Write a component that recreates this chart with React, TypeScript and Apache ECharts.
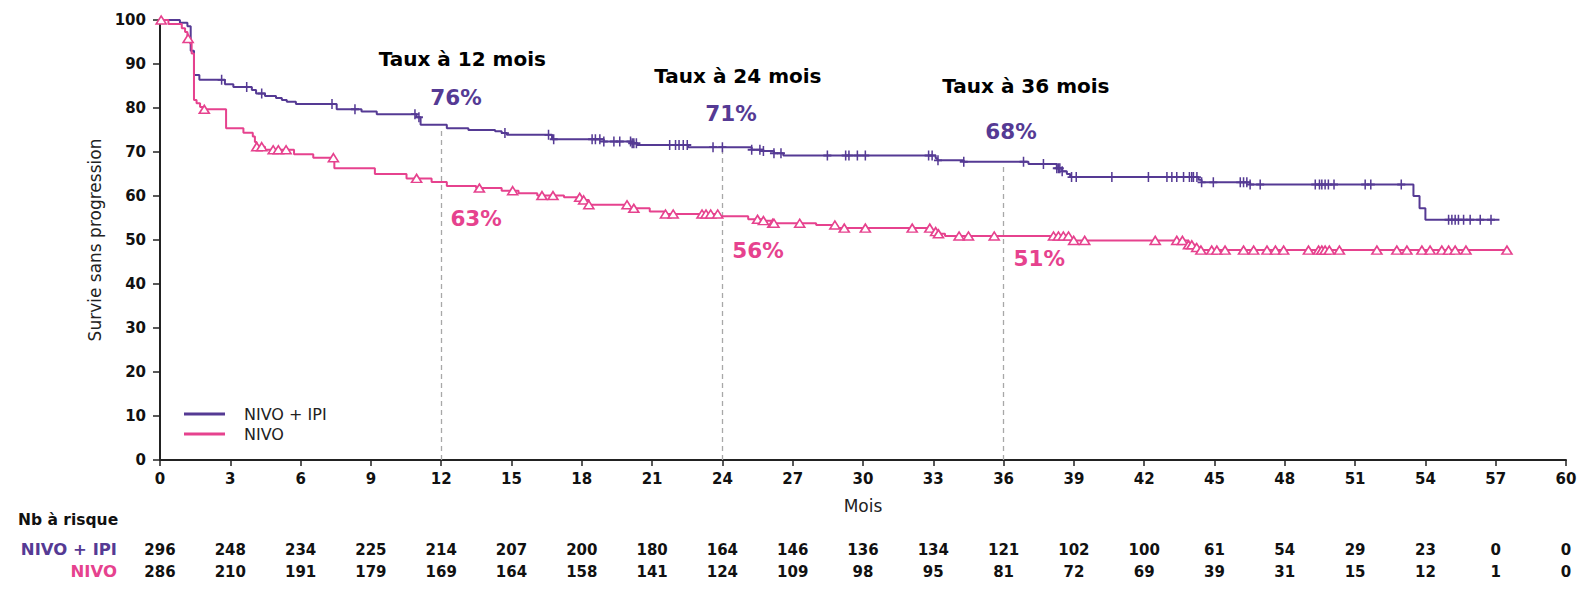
import React, { useEffect, useRef } from "react";
import * as echarts from "echarts";

// ---- Data ----
const xTicks = [0, 3, 6, 9, 12, 15, 18, 21, 24, 27, 30, 33, 36, 39, 42, 45, 48, 51, 54, 57, 60];
const riskNivoIpi = [296, 248, 234, 225, 214, 207, 200, 180, 164, 146, 136, 134, 121, 102, 100, 61, 54, 29, 23, 0, 0];
const riskNivo = [286, 210, 191, 179, 169, 164, 158, 141, 124, 109, 98, 95, 81, 72, 69, 39, 31, 15, 12, 1, 0];

// Kaplan-Meier steps: [month, survival after the step]
const nivoIpiSteps: [number, number][] = [
  [0, 100], [0.85, 99.4], [1.17, 98.6], [1.31, 93], [1.45, 87.5], [1.68, 86.4],
  [2.77, 85.4], [3.13, 84.8], [3.92, 84.1], [4.1, 83.3], [4.48, 82.7], [4.95, 82.3],
  [5.2, 81.8], [5.41, 81.4], [5.8, 80.9], [7.54, 79.7], [8.6, 79.2], [9.25, 78.6],
  [10.95, 77.9], [11.12, 76.2], [12.24, 75.4], [13.16, 75.0], [14.3, 74.7], [14.58, 74.3],
  [14.8, 73.9], [16.73, 72.9], [18.94, 72.4], [20.1, 72.0], [20.36, 71.6], [22.53, 71.1],
  [25.25, 70.5], [25.75, 70.2], [26.2, 69.7], [26.6, 69.2], [33.1, 68.6], [33.17, 68.1],
  [34.3, 67.8], [37.06, 67.3], [38.27, 66.3], [38.5, 65.6], [38.7, 65.0], [38.84, 64.3],
  [44.32, 63.7], [44.45, 63.1], [46.52, 62.6], [53.49, 60.0], [53.75, 57.2], [54.0, 54.6],
  [57.16, 54.6],
];
const nivoIpiCensor = [
  2.63, 3.7, 4.34, 7.34, 8.32, 10.88, 11.05, 14.72, 16.58, 16.8, 18.44, 18.58, 18.77, 18.94,
  19.37, 19.62, 20.08, 20.15, 20.22, 20.33, 21.75, 22.0, 22.15, 22.33, 22.5, 23.6, 24.0,
  25.25, 25.6, 25.75, 26.2, 26.5, 28.48, 29.26, 29.4, 29.76, 30.1, 32.8, 32.95, 33.2, 34.3,
  36.85, 37.7, 38.27, 38.34, 38.4, 38.5, 38.9, 39.1, 40.62, 42.18, 42.97, 43.18, 43.39,
  43.68, 43.93, 44.03, 44.1, 44.25, 44.45, 44.95, 46.1, 46.24, 46.38, 46.52, 46.95, 49.3,
  49.48, 49.58, 49.72, 49.86, 50.1, 51.43, 51.67, 52.97, 54.99, 55.13, 55.27, 55.41, 55.63,
  55.91, 56.34, 56.8,
];

const nivoSteps: [number, number][] = [
  [0, 100], [0.36, 99.1], [0.93, 98.1], [1.07, 97.3], [1.17, 95.8], [1.28, 94.7],
  [1.35, 92.4], [1.45, 81.8], [1.56, 81.1], [1.71, 80.2], [1.85, 79.7], [2.82, 75.4],
  [3.56, 74.4], [3.96, 73.5], [4.05, 72.3], [4.12, 71.2], [4.48, 70.5], [5.72, 69.5],
  [6.54, 68.7], [7.44, 66.3], [9.17, 65.0], [10.52, 64.0], [11.59, 63.2], [12.24, 62.3],
  [13.49, 61.8], [14.58, 61.2], [15.3, 60.6], [16.1, 60.1], [17.24, 59.7], [18.0, 59.1],
  [18.3, 58.0], [20.0, 57.2], [20.9, 56.5], [21.5, 55.9], [23.9, 55.4], [25.1, 54.7],
  [25.7, 54.4], [26.15, 53.8], [28.0, 53.4], [28.9, 52.7], [32.9, 51.9], [33.2, 51.4],
  [33.5, 50.9], [38.84, 49.9], [43.89, 48.9], [44.24, 48.3], [44.38, 47.7], [57.6, 47.7],
];
const nivoCensor = [
  0.05, 1.2, 1.89, 4.13, 4.34, 4.83, 5.05, 5.38, 7.4, 10.95, 13.63, 15.05, 16.3, 16.77,
  17.91, 18.08, 18.3, 19.93, 20.22, 21.57, 21.9, 23.13, 23.3, 23.5, 23.8, 25.5, 25.75,
  26.15, 26.2, 27.3, 28.8, 29.2, 30.1, 32.1, 32.85, 33.1, 33.22, 34.1, 34.5, 35.6, 38.13,
  38.34, 38.55, 38.77, 38.99, 39.46, 42.47, 43.39, 43.63, 43.89, 44.03, 44.24, 44.42,
  44.88, 45.1, 45.45, 46.24, 46.67, 47.24, 47.6, 47.95, 49.01, 49.44, 49.58, 49.72, 49.9,
  50.33, 51.93, 52.78, 53.21, 53.85, 54.2, 54.7, 54.99, 55.27, 55.73, 57.48,
];

// landmark rates
const landmarkMonths = [12, 24, 36];
const rateNivoIpi = [76, 71, 68];
const rateNivo = [63, 56, 51];

const PURPLE = "#553a94";
const PINK = "#e6428e";
const FONT = "DejaVu Sans";

function valueAt(steps: [number, number][], t: number): number {
  let v = steps[0][1];
  for (const [x, y] of steps) {
    if (x <= t + 1e-9) v = y;
    else break;
  }
  return v;
}

export default function App() {
  const ref = useRef<HTMLDivElement>(null);

  useEffect(() => {
    document.body.style.margin = "0";
    if (!ref.current) return;
    const chart = echarts.init(ref.current, undefined, { renderer: "svg" });

    // annotation anchors (in data coordinates)
    const titleAnchor = [[12.9, 91.2], [24.66, 87.3], [36.95, 85.0]];
    const ipiAnchor = [[12.63, 82.3], [24.37, 78.7], [36.32, 74.6]];
    const nivoAnchor = [[13.49, 55.0], [25.52, 47.7], [37.52, 45.9]];

    const annData: any[] = [];
    landmarkMonths.forEach((m, i) => {
      annData.push({
        value: titleAnchor[i],
        label: { formatter: `Taux à ${m} mois`, color: "#000", fontSize: 20, fontWeight: "bold" },
      });
      annData.push({
        value: ipiAnchor[i],
        label: { formatter: `${rateNivoIpi[i]}%`, color: PURPLE, fontSize: 21.5, fontWeight: "bold" },
      });
      annData.push({
        value: nivoAnchor[i],
        label: { formatter: `${rateNivo[i]}%`, color: PINK, fontSize: 21.5, fontWeight: "bold" },
      });
    });

    const tickLabelStyle = { fontSize: 15, fontWeight: "bold", color: "#111", fontFamily: FONT };

    const option: any = {
      animation: false,
      textStyle: { fontFamily: FONT },
      grid: { left: 160, right: 22, top: 20, bottom: 132 },
      legend: {
        data: ["NIVO + IPI", "NIVO"],
        orient: "vertical",
        left: 184,
        top: 406,
        padding: 0,
        icon: "rect",
        itemWidth: 41,
        itemHeight: 3,
        itemGap: 4,
        textStyle: { fontSize: 16, color: "#222", fontFamily: FONT, padding: [0, 0, 0, 14] },
        selectedMode: false,
      },
      xAxis: [
        {
          type: "value",
          min: 0,
          max: 60,
          interval: 3,
          name: "Mois",
          nameLocation: "middle",
          nameGap: 37,
          nameTextStyle: { fontSize: 17, color: "#222", fontFamily: FONT },
          axisLine: { show: true, lineStyle: { color: "#222", width: 2 } },
          axisTick: { show: true, length: 6, lineStyle: { color: "#222", width: 1.5 } },
          axisLabel: { ...tickLabelStyle, margin: 11 },
          splitLine: { show: false },
        },
        {
          type: "value",
          min: 0,
          max: 60,
          interval: 3,
          position: "bottom",
          offset: 74,
          axisLine: { show: false },
          axisTick: { show: false },
          splitLine: { show: false },
          axisLabel: {
            ...tickLabelStyle,
            margin: 8,
            formatter: (v: number) => String(riskNivoIpi[xTicks.indexOf(Math.round(v))] ?? ""),
          },
        },
        {
          type: "value",
          min: 0,
          max: 60,
          interval: 3,
          position: "bottom",
          offset: 96,
          axisLine: { show: false },
          axisTick: { show: false },
          splitLine: { show: false },
          axisLabel: {
            ...tickLabelStyle,
            margin: 8,
            formatter: (v: number) => String(riskNivo[xTicks.indexOf(Math.round(v))] ?? ""),
          },
        },
      ],
      yAxis: {
        type: "value",
        min: 0,
        max: 100,
        interval: 10,
        name: "Survie sans progression",
        nameLocation: "middle",
        nameGap: 50,
        nameTextStyle: { fontSize: 17, color: "#222", fontFamily: FONT },
        axisLine: { show: true, lineStyle: { color: "#222", width: 2 } },
        axisTick: { show: true, length: 7, lineStyle: { color: "#222", width: 1.5 } },
        axisLabel: { ...tickLabelStyle, margin: 14 },
        splitLine: { show: false },
      },
      graphic: [
        {
          type: "text",
          x: 18,
          y: 520,
          style: {
            text: "Nb à risque",
            fill: "#111",
            font: `bold 15.5px "${FONT}"`,
            align: "left",
            textAlign: "left",
            verticalAlign: "middle",
            textVerticalAlign: "middle",
          },
        },
        {
          type: "text",
          x: 117,
          y: 549,
          style: {
            text: "NIVO + IPI",
            fill: PURPLE,
            font: `bold 16.5px "${FONT}"`,
            align: "right",
            textAlign: "right",
            verticalAlign: "middle",
            textVerticalAlign: "middle",
          },
        },
        {
          type: "text",
          x: 117,
          y: 571,
          style: {
            text: "NIVO",
            fill: PINK,
            font: `bold 16.5px "${FONT}"`,
            align: "right",
            textAlign: "right",
            verticalAlign: "middle",
            textVerticalAlign: "middle",
          },
        },
      ],
      series: [
        {
          name: "NIVO + IPI",
          type: "line",
          step: "end",
          data: nivoIpiSteps,
          symbol: "none",
          silent: true,
          z: 3,
          lineStyle: { color: PURPLE, width: 2 },
          itemStyle: { color: PURPLE },
          markLine: {
            silent: true,
            symbol: "none",
            label: { show: false },
            lineStyle: { color: "#a8a8a8", type: [5, 4], width: 1.3 },
            z: 1,
            data: landmarkMonths.map((m) => [
              { coord: [m, 0] },
              { coord: [m, valueAt(nivoIpiSteps, m) - 0.6] },
            ]),
          },
        },
        {
          name: "NIVO",
          type: "line",
          step: "end",
          data: nivoSteps,
          symbol: "none",
          silent: true,
          z: 3,
          lineStyle: { color: PINK, width: 2 },
          itemStyle: { color: PINK },
        },
        {
          name: "NIVO + IPI censurés",
          type: "scatter",
          silent: true,
          z: 4,
          data: nivoIpiCensor.map((t) => [t, valueAt(nivoIpiSteps, t)]),
          symbol: "path://M5,0V10M0,5H10",
          symbolSize: [8, 10],
          itemStyle: { color: "transparent", borderColor: PURPLE, borderWidth: 1.7, opacity: 1 },
        },
        {
          name: "NIVO censurés",
          type: "scatter",
          silent: true,
          z: 4,
          data: nivoCensor.map((t) => [t, valueAt(nivoSteps, t)]),
          symbol: "triangle",
          symbolSize: [10, 8],
          itemStyle: { color: "#ffffff", borderColor: PINK, borderWidth: 1.6, opacity: 1 },
        },
        {
          name: "annotations",
          type: "scatter",
          silent: true,
          z: 5,
          symbol: "circle",
          symbolSize: 1,
          itemStyle: { color: "transparent", opacity: 1 },
          label: { show: true, position: "inside", fontFamily: FONT, opacity: 1 },
          data: annData,
        },
      ],
    };

    chart.setOption(option);
    return () => chart.dispose();
  }, []);

  return <div ref={ref} style={{ width: 1588, height: 592 }} />;
}
